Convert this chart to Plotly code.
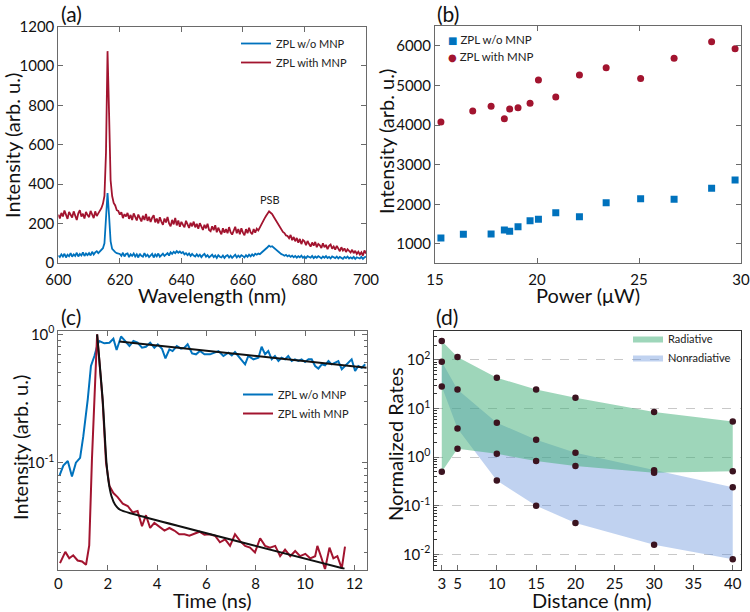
import numpy as np
import plotly.graph_objects as go

W, H = 750, 612
def px(x): return x / W
def py(y): return 1 - y / H

BLUE = "#0072BD"
RED = "#A2142F"
DOT = "#3b1420"
FONT = "Lato"

# ---------------- (a) spectra ----------------
wavelength = np.round(np.arange(600, 700.001, 0.5), 1).tolist()
spec_with_mnp = [
    245,226,254,236,266,238,224,259,243,231,
    262,240,218,252,268,236,250,226,259,243,
    233,264,242,228,262,238,252,266,278,300,
    340,560,1075,760,420,340,305,292,268,264,
    246,258,228,248,236,254,224,244,218,252,
    233,216,246,224,211,240,218,249,214,234,
    208,230,242,206,226,201,232,210,194,226,
    206,234,201,186,219,196,229,191,216,184,
    209,194,181,214,191,178,204,186,210,181,
    199,174,202,182,168,194,176,199,168,161,
    186,166,192,156,179,161,146,176,154,172,
    151,182,156,144,169,184,151,172,146,176,
    154,141,172,151,179,156,146,172,154,174,
    165,182,195,210,225,238,250,262,255,248,
    235,222,210,197,183,172,158,152,140,137,
    126,142,116,132,110,127,103,122,96,117,
    110,90,112,96,83,104,88,107,80,97,
    90,76,100,80,92,70,87,94,73,84,
    68,87,70,60,80,63,74,56,70,58,
    53,67,50,62,46,57,43,54,38,64,
    48]
spec_wo_mnp = [
    38,30,44,33,47,28,42,34,50,32,
    44,36,52,33,46,38,54,36,48,40,
    50,38,57,43,54,60,50,58,65,75,
    100,220,355,240,110,72,62,55,50,48,
    46,36,52,33,46,49,30,44,36,48,
    33,44,28,47,36,32,50,34,42,30,
    36,46,28,44,34,48,32,42,47,36,
    44,50,38,54,46,57,50,60,52,58,
    50,56,44,50,40,48,36,46,38,33,
    44,34,42,30,40,46,32,40,28,38,
    42,30,38,26,40,32,28,38,26,36,
    40,28,37,26,36,42,28,38,30,40,
    35,28,40,31,42,34,44,36,47,42,
    48,45,52,58,65,72,80,88,82,85,
    78,70,62,55,50,45,42,37,41,34,
    39,31,37,29,36,27,35,29,37,27,
    33,25,35,29,27,36,25,33,27,35,
    31,24,33,27,35,25,31,23,33,27,
    25,33,23,31,27,21,31,25,33,23,
    29,23,31,21,29,25,23,31,21,29,
    32]

# ---------------- (b) power dependence ----------------
power_wo = [15.29,16.39,17.75,18.40,18.66,19.07,19.66,20.07,20.92,22.08,23.39,25.08,26.72,28.56,29.71]
int_wo = [1151,1244,1252,1353,1319,1437,1588,1622,1790,1689,2042,2143,2126,2403,2613]
power_with = [15.29,16.85,17.75,18.40,18.66,19.07,19.66,20.07,20.92,22.08,23.39,25.08,26.72,28.56,29.71]
int_with = [4076,4353,4471,4160,4403,4437,4546,5134,4706,5261,5445,5176,5681,6101,5924]

# ---------------- (c) lifetime ----------------
t_wo = [0.04,0.2,0.38,0.55,0.71,0.88,1.01,1.19,1.32,1.46,1.59,1.66,1.86,2.07,2.23,2.36,2.54,2.74,2.88,
        3.04,3.21,3.39,3.55,3.72,3.89,4.03,4.2,4.34,4.5,4.63,4.8,4.97,5.11,5.24,5.42,5.58,5.74,5.92,
        6.15,6.49,6.69,6.89,7.03,7.16,7.36,7.57,7.7,7.91,8.11,8.24,8.38,8.51,8.65,8.78,8.92,9.05,9.19,
        9.32,9.46,9.59,9.73,9.86,10.0,10.14,10.27,10.41,10.54,10.68,10.81,10.95,11.08,11.22,11.35,11.49,
        11.62,11.76,11.89,12.03,12.16,12.3,12.44]
i_wo = [0.079,0.095,0.103,0.078,0.100,0.109,0.161,0.312,0.567,0.678,0.836,0.887,0.851,0.861,0.924,0.755,0.963,0.871,0.811,
        0.887,0.861,0.787,0.800,0.861,0.787,0.836,0.773,0.650,0.764,0.741,0.811,0.773,0.787,0.836,0.711,0.699,0.741,0.699,
        0.699,0.741,0.678,0.719,0.686,0.728,0.657,0.584,0.678,0.639,0.657,0.800,0.699,0.741,0.639,0.678,0.620,0.657,0.639,
        0.678,0.620,0.639,0.620,0.639,0.609,0.639,0.639,0.567,0.542,0.584,0.574,0.620,0.584,0.601,0.620,0.534,
        0.567,0.609,0.639,0.518,0.567,0.550,0.584]
t_with = [0.065,0.28,0.44,0.6,0.78,0.96,1.12,1.25,1.36,1.46,1.57,1.79,1.93,2.07,2.23,2.4,2.61,2.81,3.01,3.21,
          3.39,3.55,3.72,3.89,4.09,4.3,4.5,4.7,4.9,5.11,5.31,5.51,5.72,5.92,6.12,6.35,6.55,6.76,6.96,7.16,
          7.37,7.57,7.77,7.97,8.18,8.38,8.58,8.79,8.99,9.19,9.4,9.6,9.8,10.01,10.21,10.41,10.5,10.67,10.81,
          10.99,11.15,11.31,11.49,11.62]
i_with = [0.0165,0.0202,0.018,0.019,0.0173,0.017,0.016,0.0227,0.106,0.35,1.0,0.31,0.10,0.066,0.058,0.054,0.048,0.046,0.041,0.042,
          0.032,0.039,0.031,0.034,0.032,0.0296,0.031,0.0296,0.0277,0.0277,0.027,0.028,0.029,0.0275,0.0277,0.027,0.024,0.0253,0.0225,0.0277,
          0.0245,0.0225,0.0218,0.020,0.0258,0.0225,0.0218,0.0225,0.0187,0.021,0.0187,0.0205,0.0187,0.0195,0.018,0.0187,0.0225,0.018,0.0148,
          0.0218,0.018,0.0187,0.015,0.0222]
fit_wo_t = [2.47, 12.5]
fit_wo_i = [0.88, 0.55]
fit_with_t = [1.57, 1.80, 1.95, 2.05, 2.15, 2.30, 2.50, 3.00, 11.6]
fit_with_i = [1.0, 0.30, 0.10, 0.068, 0.055, 0.047, 0.043, 0.040, 0.0149]

# ---------------- (d) normalized rates ----------------
distance = [3, 5, 10, 15, 20, 30, 40]
rad_upper = [247, 115, 43, 24.8, 16.6, 8.5, 5.4]
rad_lower = [0.50, 1.49, 1.17, 0.83, 0.66, 0.48, 0.51]
nonrad_upper = [92, 24.6, 5.1, 2.28, 1.23, 0.54, 0.24]
nonrad_lower = [28.6, 3.9, 0.33, 0.10, 0.044, 0.0158, 0.0079]

fig = go.Figure()

# (a)
fig.add_trace(go.Scatter(x=wavelength, y=spec_wo_mnp, mode="lines", name="ZPL w/o MNP",
                         line=dict(color=BLUE, width=1.8), xaxis="x", yaxis="y", legend="legend"))
fig.add_trace(go.Scatter(x=wavelength, y=spec_with_mnp, mode="lines", name="ZPL with MNP",
                         line=dict(color=RED, width=1.8), xaxis="x", yaxis="y", legend="legend"))

# (b)  (legend keys drawn as text glyphs below)
fig.add_trace(go.Scatter(x=power_wo, y=int_wo, mode="markers", name="ZPL w/o MNP", showlegend=False,
                         marker=dict(symbol="square", size=7, color=BLUE), xaxis="x2", yaxis="y2"))
fig.add_trace(go.Scatter(x=power_with, y=int_with, mode="markers", name="ZPL with MNP", showlegend=False,
                         marker=dict(symbol="circle", size=7, color=RED), xaxis="x2", yaxis="y2"))

# (c)
fig.add_trace(go.Scatter(x=t_wo, y=i_wo, mode="lines", name="ZPL w/o MNP",
                         line=dict(color=BLUE, width=2), xaxis="x3", yaxis="y3", legend="legend2"))
fig.add_trace(go.Scatter(x=t_with, y=i_with, mode="lines", name="ZPL with MNP",
                         line=dict(color=RED, width=2), xaxis="x3", yaxis="y3", legend="legend2"))
fig.add_trace(go.Scatter(x=fit_wo_t, y=fit_wo_i, mode="lines", showlegend=False,
                         line=dict(color="#111", width=2), xaxis="x3", yaxis="y3"))
fig.add_trace(go.Scatter(x=fit_with_t, y=fit_with_i, mode="lines", showlegend=False,
                         line=dict(color="#111", width=2, shape="spline", smoothing=0.6), xaxis="x3", yaxis="y3"))

# (d)
fig.add_trace(go.Scatter(x=distance + distance[::-1], y=nonrad_upper + nonrad_lower[::-1],
                         fill="toself", fillcolor="rgba(97,142,217,0.40)", mode="lines",
                         line=dict(width=0, color="rgba(0,0,0,0)"), name="Nonradiative",
                         xaxis="x4", yaxis="y4", legend="legend3", legendrank=2))
fig.add_trace(go.Scatter(x=distance + distance[::-1], y=rad_upper + rad_lower[::-1],
                         fill="toself", fillcolor="rgba(61,173,117,0.50)", mode="lines",
                         line=dict(width=0, color="rgba(0,0,0,0)"), name="Radiative",
                         xaxis="x4", yaxis="y4", legend="legend3", legendrank=1))
fig.add_trace(go.Scatter(x=distance * 4, y=rad_upper + nonrad_upper + nonrad_lower + rad_lower,
                         mode="markers", marker=dict(size=6.5, color=DOT), showlegend=False,
                         xaxis="x4", yaxis="y4"))

axis_style = dict(showline=True, linecolor="#6a6a6a", linewidth=1, mirror="ticks", ticks="inside",
                  ticklen=5, tickcolor="#6a6a6a", showgrid=False, zeroline=False,
                  tickfont=dict(size=15, family=FONT, color="#111"), automargin=False)
xstyle = {**axis_style, "ticklabelstandoff": 3}

def sup(n):
    return "10<sup>%d</sup>" % n

leg_common = dict(xanchor="left", yanchor="top", bgcolor="rgba(0,0,0,0)", tracegroupgap=0,
                  itemwidth=30, font=dict(size=11, family=FONT, color="#222"))

fig.update_layout(
    width=W, height=612, margin=dict(l=0, r=0, t=0, b=0),
    paper_bgcolor="white", plot_bgcolor="white",
    font=dict(family=FONT, size=15, color="#111"),
    xaxis=dict(domain=[px(58.3), px(366)], range=[600, 700], tickvals=[600, 620, 640, 660, 680, 700],
               anchor="y", **xstyle),
    yaxis=dict(domain=[py(263), py(26.5)], range=[0, 1200], tickvals=[0, 200, 400, 600, 800, 1000, 1200],
               anchor="x", **axis_style),
    xaxis2=dict(domain=[px(435), px(741)], range=[15, 30], tickvals=[15, 20, 25, 30],
                anchor="y2", **xstyle),
    yaxis2=dict(domain=[py(263), py(25.5)], range=[520, 6510], tickvals=[1000, 2000, 3000, 4000, 5000, 6000],
                anchor="x2", **axis_style),
    xaxis3=dict(domain=[px(58.4), px(366.7)], range=[0, 12.5], tickvals=[0, 2, 4, 6, 8, 10, 12],
                anchor="y3", **{**xstyle, "ticklabelstandoff": 0}),
    yaxis3=dict(domain=[py(569.5), py(330.5)], type="log", range=[-1.832, 0.03],
                tickvals=[0.1, 1], ticktext=[sup(-1), sup(0)], anchor="x3",
                minor=dict(ticks="inside", ticklen=3, tickcolor="#6a6a6a",
                           tickvals=[0.02, 0.03, 0.04, 0.05, 0.06, 0.07, 0.08, 0.09,
                                     0.2, 0.3, 0.4, 0.5, 0.6, 0.7, 0.8, 0.9]),
                **axis_style),
    xaxis4=dict(domain=[px(434.3), px(741)], range=[2.05, 41.05], tickvals=[3, 5, 10, 15, 20, 25, 30, 35, 40],
                anchor="y4", **{**xstyle, "ticklabelstandoff": 0, "mirror": True, "linecolor": "#333"}),
    yaxis4=dict(domain=[py(569.5), py(330.5)], type="log", range=[-2.313, 2.607],
                tickvals=[0.01, 0.1, 1, 10, 100], ticktext=[sup(-2), sup(-1), sup(0), sup(1), sup(2)],
                anchor="x4",
                minor=dict(ticks="inside", ticklen=3, tickcolor="#333",
                           tickvals=[m * 10.0 ** e for e in range(-3, 3) for m in range(2, 10)]),
                **{**axis_style, "mirror": True, "linecolor": "#333", "showgrid": True,
                   "gridcolor": "#c8c8c8", "griddash": "dash", "gridwidth": 1}),
    legend=dict(x=px(236), y=py(29), **leg_common),
    legend2=dict(x=px(238), y=py(380), **leg_common),
    legend3=dict(x=px(628), y=py(324), **leg_common),
)

# legend of panel (b): marker glyph + label as text
b_legend = [("\u25a0", BLUE, "ZPL w/o MNP", 39), ("\u25cf", RED, "ZPL with MNP", 56)]
for glyph, col, label, yy in b_legend:
    fig.add_annotation(text="<span style='color:%s;font-family:DejaVu Sans;font-size:10px'>%s</span> %s" % (col, glyph, label),
                       xref="paper", yref="paper", x=px(446), y=py(yy), xanchor="left", yanchor="middle",
                       showarrow=False, font=dict(size=11.5, family=FONT, color="#222"))

annots = [
    dict(text="(a)", x=px(71), y=py(13)), dict(text="(b)", x=px(448), y=py(13)),
    dict(text="(c)", x=px(71), y=py(316)), dict(text="(d)", x=px(447), y=py(316)),
]
for a in annots:
    fig.add_annotation(xref="paper", yref="paper", showarrow=False, font=dict(size=21, family=FONT, color="#111"),
                       xanchor="center", yanchor="middle", **a)

titles = [
    ("Wavelength (nm)", 212, 295, 0), ("Intensity (arb. u.)", 12, 146, -90),
    ("Power (\u03bcW)", 588, 295, 0), ("Intensity (arb. u.)", 386, 142, -90),
    ("Time (ns)", 212, 600, 0), ("Intensity (arb. u.)", 20, 448, -90),
    ("Distance (nm)", 592, 600, 0), ("Normalized Rates", 395, 444, -90),
]
for txt, x, y, ang in titles:
    fig.add_annotation(text=txt, xref="paper", yref="paper", x=px(x), y=py(y), showarrow=False,
                       textangle=ang, xanchor="center", yanchor="middle",
                       font=dict(size=20, family=FONT, color="#111"))

fig.add_annotation(text="PSB", x=668.8, y=321, xref="x", yref="y", showarrow=False,
                   font=dict(size=11, family=FONT, color="#222"))

fig.write_html("out.html")
